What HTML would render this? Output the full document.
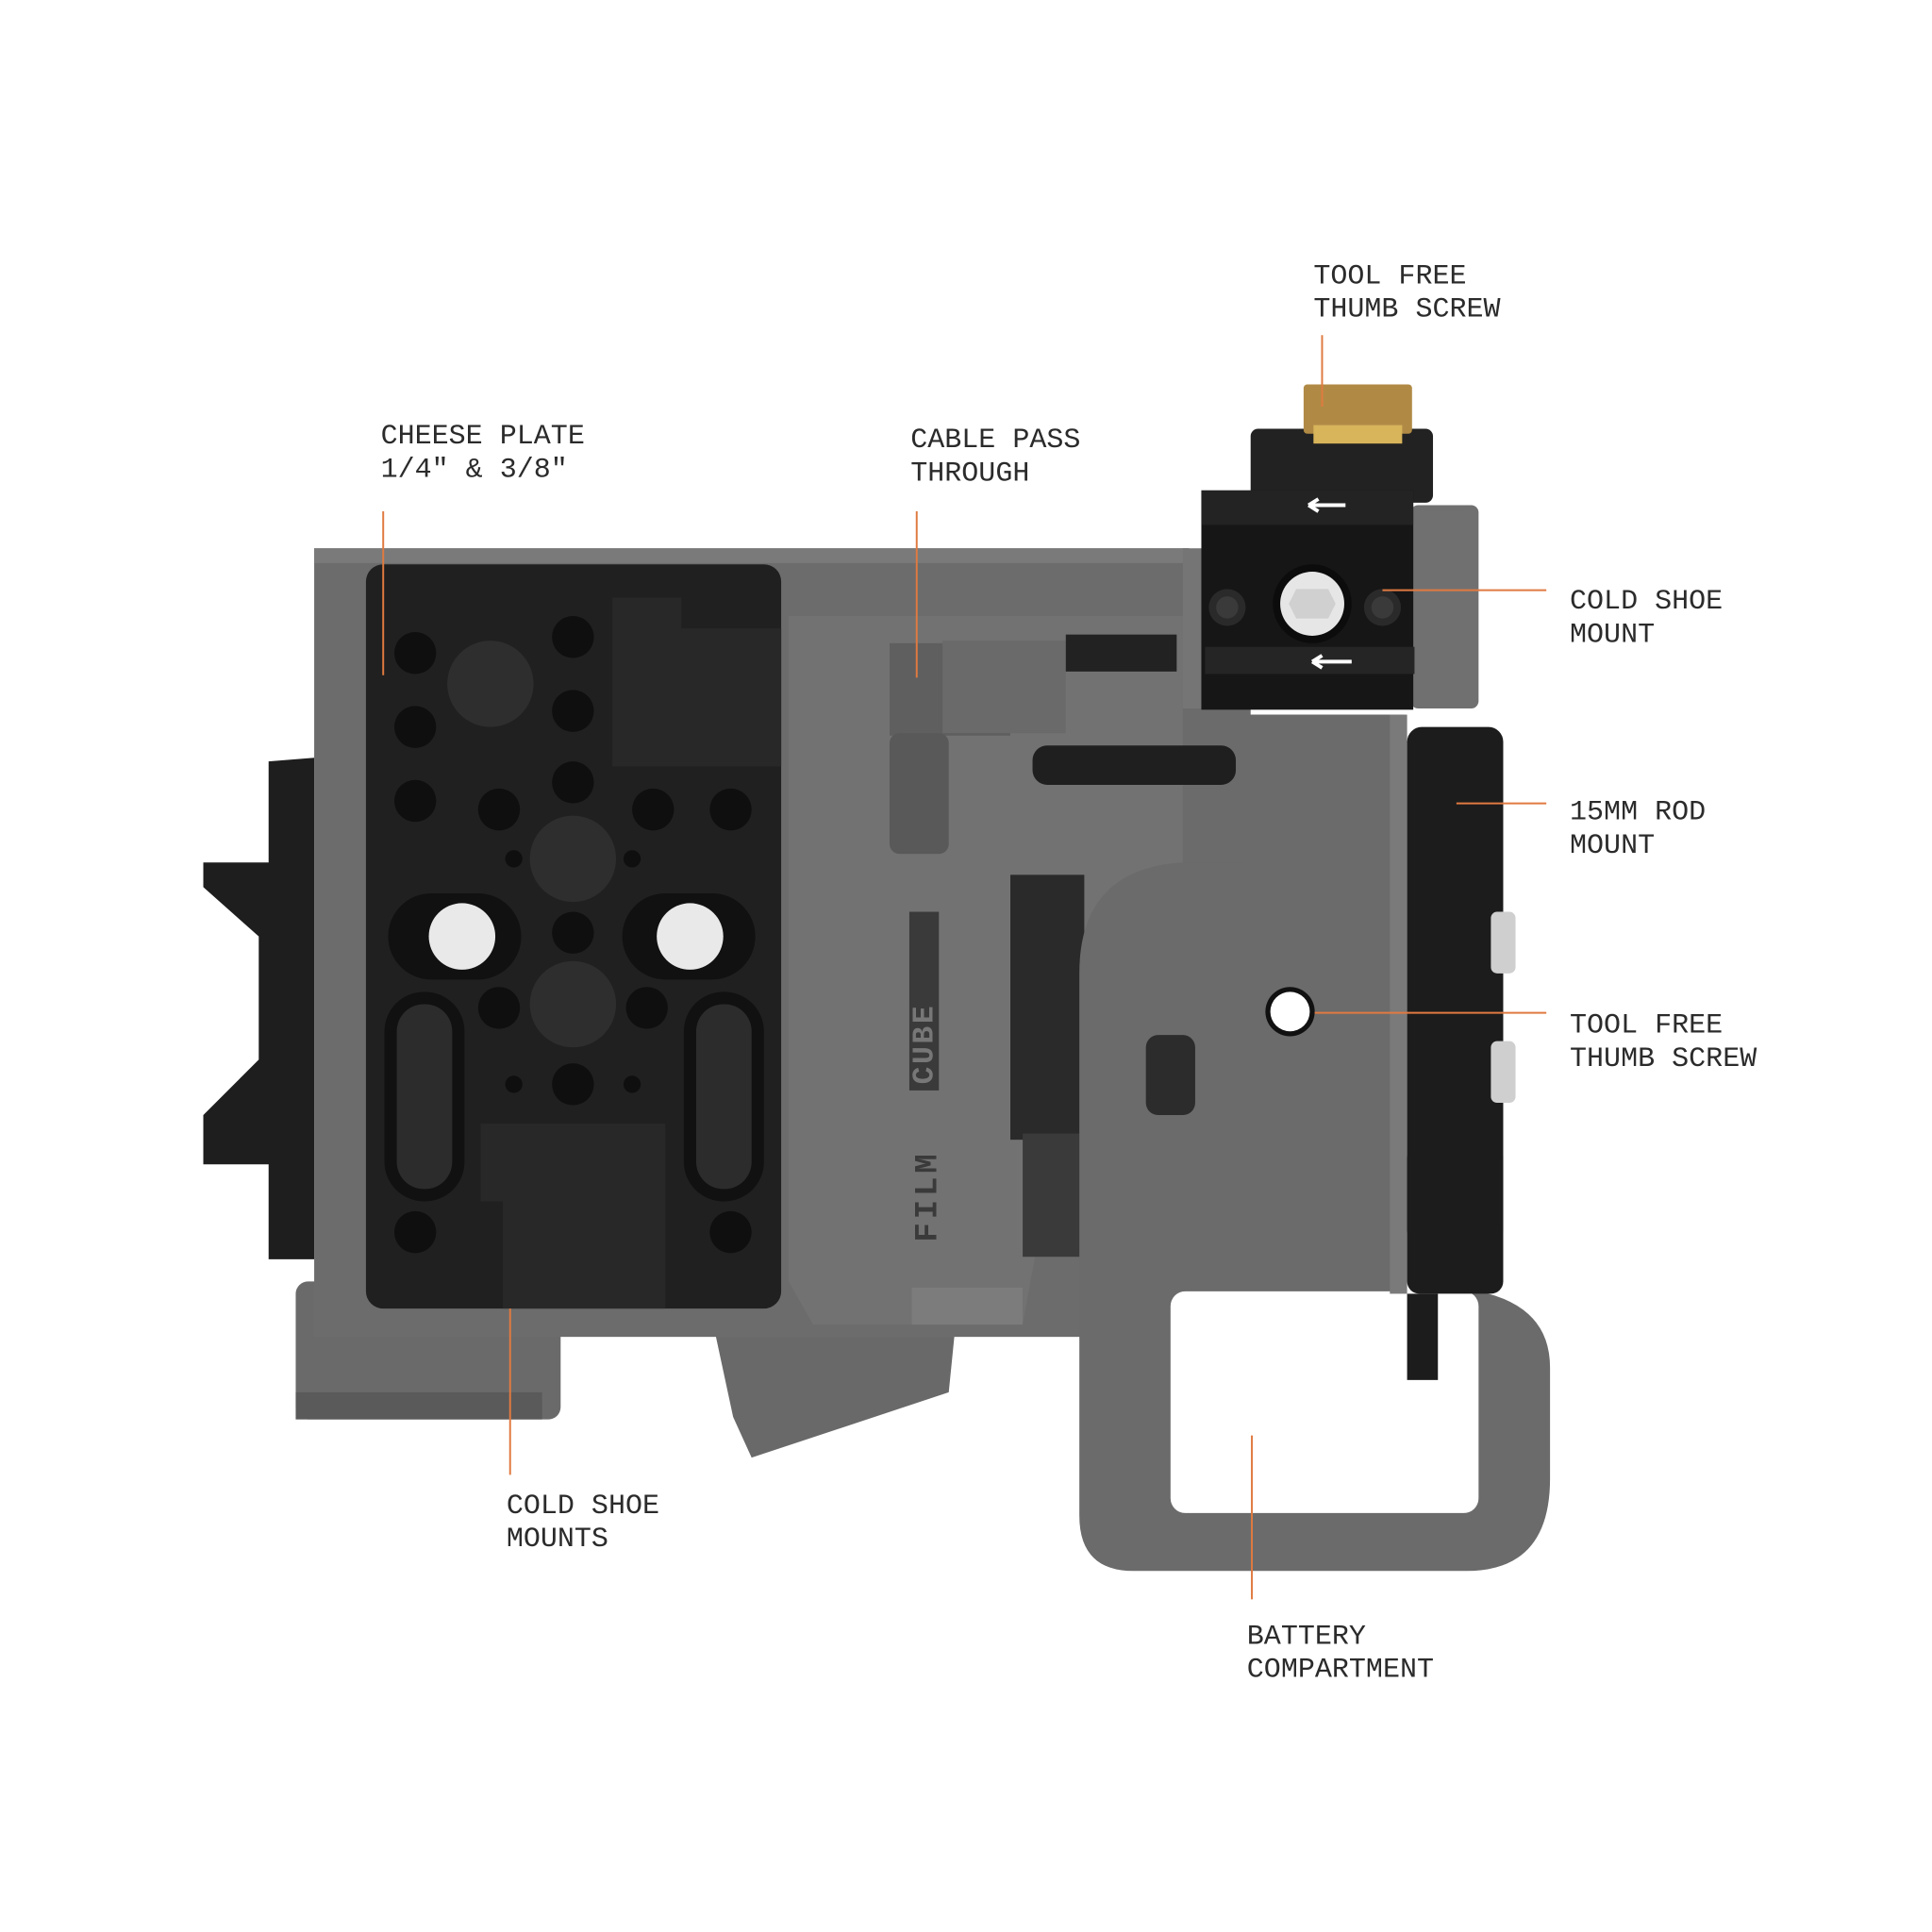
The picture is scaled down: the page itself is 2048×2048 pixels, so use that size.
<!DOCTYPE html>
<html><head><meta charset="utf-8"><style>
html,body{margin:0;padding:0;background:#fff;}
svg{display:block;}
text{font-family:"Liberation Mono",monospace;font-size:23px;fill:#2b2b2b;}
</style></head><body>
<svg width="2048" height="2048" viewBox="0 0 1568 1568" xmlns="http://www.w3.org/2000/svg">
<rect width="1568" height="1568" fill="#fff"/>
<!-- left black side piece -->
<path d="M218 618 L255 615 L255 1022 L218 1022 L218 945 L165 945 L165 905 L210 860 L210 760 L165 720 L165 700 L218 700 Z" fill="#1e1e1e"/>
<!-- bottom protrusions -->
<rect x="240" y="1040" width="215" height="112" rx="10" fill="#6a6a6a"/>
<rect x="240" y="1130" width="200" height="22" fill="#5a5a5a"/>
<path d="M580 1080 L775 1080 L770 1130 L610 1183 L595 1150 Z" fill="#696969"/>
<!-- main gray body -->
<rect x="255" y="445" width="710" height="640" fill="#6c6c6c"/>
<rect x="255" y="445" width="710" height="12" fill="#7a7a7a"/>
<!-- middle section lighter -->
<path d="M640 500 L965 500 L965 1020 L840 1020 L830 1075 L660 1075 L640 1040 Z" fill="#727272"/>
<rect x="960" y="570" width="55" height="140" fill="#6b6b6b"/>
<rect x="722" y="522" width="98" height="75" fill="#5f5f5f"/>
<rect x="765" y="520" width="100" height="75" fill="#6a6a6a"/>
<rect x="722" y="595" width="48" height="98" rx="8" fill="#595959"/>
<rect x="865" y="515" width="90" height="30" fill="#222"/>
<rect x="838" y="605" width="165" height="32" rx="12" fill="#1f1f1f"/>
<rect x="820" y="710" width="60" height="215" fill="#2a2a2a"/>
<rect x="830" y="920" width="60" height="100" fill="#3a3a3a"/>
<rect x="740" y="1045" width="90" height="30" fill="#7c7c7c"/>
<text x="0" y="0" transform="translate(760 1008) rotate(-90)" style="font-size:26px;font-weight:bold;fill:#3a3a3a;letter-spacing:3px">FILM</text>
<rect x="738" y="740" width="24" height="145" fill="#3a3a3a"/>
<text x="0" y="0" transform="translate(757 880) rotate(-90)" style="font-size:24px;font-weight:bold;fill:#777;letter-spacing:2px">CUBE</text>
<!-- right section -->
<path d="M1010 580 L1140 580 L1140 1048 L1200 1048 Q1258 1060 1258 1110 L1258 1200 Q1258 1275 1190 1275 L920 1275 Q876 1275 876 1230 L876 790 Q876 705 960 700 L1010 700 Z" fill="#6b6b6b"/>
<rect x="950" y="1048" width="250" height="180" rx="12" fill="#fff"/>
<rect x="1128" y="580" width="14" height="470" fill="#7a7a7a"/>
<rect x="930" y="840" width="40" height="65" rx="10" fill="#2c2c2c"/>
<circle cx="1047" cy="821" r="20" fill="#111"/>
<circle cx="1047" cy="821" r="16" fill="#fff"/>
<!-- rod mount -->
<rect x="1142" y="590" width="78" height="420" rx="12" fill="#1c1c1c"/>
<rect x="1142" y="930" width="78" height="120" rx="10" fill="#1c1c1c"/>
<rect x="1142" y="1050" width="25" height="70" fill="#1c1c1c"/>
<rect x="1210" y="740" width="20" height="50" rx="5" fill="#cfcfcf"/>
<rect x="1210" y="845" width="20" height="50" rx="5" fill="#cfcfcf"/>
<!-- top cold shoe mount -->
<rect x="1015" y="348" width="148" height="60" rx="6" fill="#222"/>
<rect x="1058" y="312" width="88" height="40" rx="3" fill="#b08a45"/>
<rect x="1066" y="345" width="72" height="15" fill="#d8b45a"/>
<rect x="960" y="445" width="45" height="130" fill="#757575"/>
<rect x="1145" y="410" width="55" height="165" rx="6" fill="#707070"/>
<rect x="975" y="398" width="172" height="178" fill="#161616"/>
<rect x="975" y="398" width="172" height="28" fill="#232323"/>
<rect x="978" y="525" width="170" height="22" fill="#252525"/>
<path d="M1062 410 L1092 410 M1062 410 L1070 405 M1062 410 L1070 415" stroke="#fff" stroke-width="3"/>
<path d="M1065 537 L1097 537 M1065 537 L1073 532 M1065 537 L1073 542" stroke="#fff" stroke-width="3"/>
<circle cx="1065" cy="490" r="32" fill="#0c0c0c"/>
<circle cx="1065" cy="490" r="26" fill="#e6e6e6"/>
<polygon points="1052,478 1078,478 1084,490 1078,502 1052,502 1046,490" fill="#d0d0d0"/>
<circle cx="996" cy="493" r="15" fill="#2a2a2a"/><circle cx="996" cy="493" r="9" fill="#3a3a3a"/>
<circle cx="1122" cy="493" r="15" fill="#2a2a2a"/><circle cx="1122" cy="493" r="9" fill="#3a3a3a"/>
<!-- cheese plate -->
<rect x="297" y="458" width="337" height="604" rx="14" fill="#202020"/>
<path d="M497 485 L553 485 L553 510 L634 510 L634 622 L497 622 Z" fill="#282828"/>
<path d="M390 912 L540 912 L540 1062 L408 1062 L408 975 L390 975 Z" fill="#282828"/>
<g fill="#0f0f0f">
<circle cx="337" cy="530" r="17"/><circle cx="465" cy="517" r="17"/>
<circle cx="337" cy="590" r="17"/><circle cx="465" cy="577" r="17"/>
<circle cx="337" cy="650" r="17"/><circle cx="405" cy="657" r="17"/><circle cx="465" cy="635" r="17"/><circle cx="530" cy="657" r="17"/><circle cx="593" cy="657" r="17"/>
<circle cx="417" cy="697" r="7"/><circle cx="513" cy="697" r="7"/>
<circle cx="465" cy="757" r="17"/>
<circle cx="405" cy="818" r="17"/><circle cx="525" cy="818" r="17"/>
<circle cx="417" cy="880" r="7"/><circle cx="513" cy="880" r="7"/>
<circle cx="465" cy="880" r="17"/>
<circle cx="337" cy="1000" r="17"/><circle cx="593" cy="1000" r="17"/>
</g>
<g fill="#2e2e2e">
<circle cx="398" cy="555" r="35"/>
<circle cx="465" cy="697" r="35"/>
<circle cx="465" cy="815" r="35"/>
</g>
<rect x="315" y="725" width="108" height="70" rx="35" fill="#111"/>
<rect x="505" y="725" width="108" height="70" rx="35" fill="#111"/>
<circle cx="375" cy="760" r="27" fill="#e9e9e9"/>
<circle cx="560" cy="760" r="27" fill="#e9e9e9"/>
<rect x="312" y="805" width="65" height="170" rx="32" fill="#111"/>
<rect x="555" y="805" width="65" height="170" rx="32" fill="#111"/>
<rect x="322" y="815" width="45" height="150" rx="22" fill="#2c2c2c"/>
<rect x="565" y="815" width="45" height="150" rx="22" fill="#2c2c2c"/>
<!-- leader lines -->
<g stroke="#e07a40" stroke-width="1.5">
<line x1="311" y1="415" x2="311" y2="548"/>
<line x1="744" y1="415" x2="744" y2="550"/>
<line x1="1073" y1="272" x2="1073" y2="330"/>
<line x1="1122" y1="479" x2="1255" y2="479"/>
<line x1="1182" y1="652" x2="1255" y2="652"/>
<line x1="1067" y1="822" x2="1255" y2="822"/>
<line x1="414" y1="1062" x2="414" y2="1197"/>
<line x1="1016" y1="1165" x2="1016" y2="1298"/>
</g>
<!-- labels -->
<text x="309" y="360">CHEESE PLATE</text><text x="309" y="387">1/4″ &amp; 3/8″</text>
<text x="739" y="363">CABLE PASS</text><text x="739" y="390">THROUGH</text>
<text x="1066" y="230">TOOL FREE</text><text x="1066" y="257">THUMB SCREW</text>
<text x="1274" y="494">COLD SHOE</text><text x="1274" y="521">MOUNT</text>
<text x="1274" y="665">15MM ROD</text><text x="1274" y="692">MOUNT</text>
<text x="1274" y="838">TOOL FREE</text><text x="1274" y="865">THUMB SCREW</text>
<text x="411" y="1228">COLD SHOE</text><text x="411" y="1255">MOUNTS</text>
<text x="1012" y="1334">BATTERY</text><text x="1012" y="1361">COMPARTMENT</text>
</svg>
</body></html>
